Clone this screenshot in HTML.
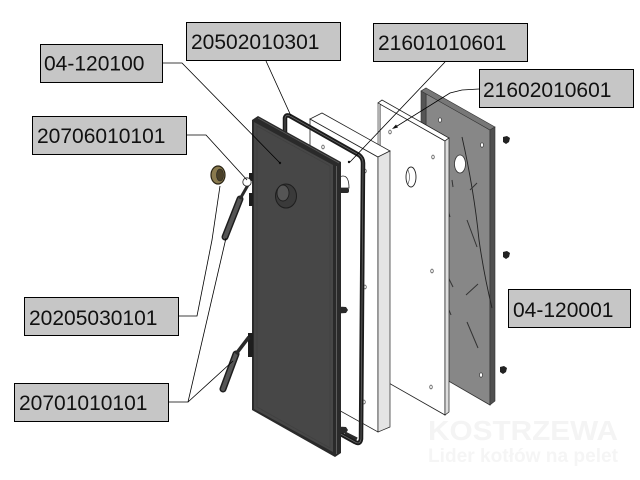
<!DOCTYPE html>
<html><head><meta charset="utf-8"><style>
html,body{margin:0;padding:0;background:#fff;}
svg{display:block;}
text{font-family:"Liberation Sans",Arial,sans-serif;}
</style></head><body>
<svg width="640" height="480" viewBox="0 0 640 480" xmlns="http://www.w3.org/2000/svg">
<rect width="640" height="480" fill="#fff"/>
<!-- watermark -->
<text x="428" y="440" font-size="28" font-weight="bold" fill="#f4f4f4" textLength="190" lengthAdjust="spacingAndGlyphs">KOSTRZEWA</text>
<text x="428" y="462" font-size="19" font-weight="bold" fill="#f5f5f5" textLength="190" lengthAdjust="spacingAndGlyphs">Lider kotłów na pelet</text>

<!-- Panel 3 gray -->
<polygon points="426,92 490,130 490,405 426,368" fill="#878787" stroke="#333" stroke-width="0.8"/>
<polygon points="421,91 426,88 426,372 421,375" fill="#555" stroke="#333" stroke-width="0.6"/>
<polygon points="421,91 426,88 495,127 490,130" fill="#777" stroke="#333" stroke-width="0.6"/>
<polygon points="490,130 495,127 495,401 490,405" fill="#505050" stroke="#333" stroke-width="0.6"/>
<ellipse cx="460" cy="164" rx="5.5" ry="9" fill="#fff" stroke="#333" stroke-width="0.8"/>
<ellipse cx="440" cy="120" rx="1.5" ry="2.2" fill="#fff" stroke="#222" stroke-width="0.6"/>
<ellipse cx="482" cy="145" rx="1.5" ry="2.2" fill="#fff" stroke="#222" stroke-width="0.6"/>
<ellipse cx="481" cy="375" rx="1.5" ry="2.2" fill="#fff" stroke="#222" stroke-width="0.6"/>
<path d="M462,137 Q474,190 479,240 Q484,275 492,308" fill="none" stroke="#222" stroke-width="0.9"/>
<g stroke="#333" stroke-width="1">
<line x1="470" y1="190" x2="477" y2="183"/>
<line x1="452" y1="180" x2="453" y2="187"/>
<line x1="448" y1="210" x2="450" y2="217"/>
<line x1="467" y1="220" x2="477" y2="247"/>
<line x1="466" y1="295" x2="478" y2="284"/>
<line x1="467" y1="322" x2="478" y2="348"/>
<line x1="448" y1="277" x2="453" y2="287"/>
<line x1="449" y1="310" x2="451" y2="315"/>
</g>
<!-- bolts -->
<g fill="#222">
<path d="M503,137 l4,-1 l3,2 l-1,4 l-3,2 l-3,-2 z"/>
<path d="M503,252 l4,-1 l3,2 l-1,4 l-3,2 l-3,-2 z"/>
<path d="M500,367 l4,-1 l3,2 l-1,4 l-3,2 l-3,-2 z"/>
</g>

<!-- Panel 2 white -->
<polygon points="380,104 445,141 445,415 380,378" fill="#fff" stroke="#222" stroke-width="0.8"/>
<polygon points="378,103 382,100 449,138 445,141" fill="#fff" stroke="#222" stroke-width="0.8"/>
<polygon points="378,103 380,104 380,378 378,377" fill="#eee" stroke="#222" stroke-width="0.6"/>
<polygon points="445,141 449,138 449,412 445,415" fill="#ddd" stroke="#222" stroke-width="0.7"/>
<ellipse cx="411" cy="177" rx="5" ry="10" fill="#fff" stroke="#222" stroke-width="0.9"/>
<path d="M408,170 q3,7 0,14" fill="none" stroke="#444" stroke-width="0.6"/>
<g fill="#fff" stroke="#222" stroke-width="0.6">
<ellipse cx="390" cy="132" rx="1.2" ry="2"/>
<ellipse cx="433" cy="157" rx="1.2" ry="2"/>
<ellipse cx="432" cy="271" rx="1.2" ry="2"/>
<ellipse cx="431" cy="387" rx="1.2" ry="2"/>
</g>

<!-- Panel 1 white block -->
<polygon points="310,119 378,157 378,432 310,394" fill="#fff" stroke="#222" stroke-width="0.8"/>
<polygon points="310,119 322,113 390,151 378,157" fill="#fff" stroke="#222" stroke-width="0.8"/>
<polygon points="378,157 390,151 390,427 378,432" fill="#e4e4e4" stroke="#222" stroke-width="0.7"/>
<g fill="#fff" stroke="#222" stroke-width="0.6">
<ellipse cx="323" cy="147" rx="1.2" ry="2"/>
<ellipse cx="365" cy="171" rx="1.2" ry="2"/>
<ellipse cx="365" cy="287" rx="1.2" ry="2"/>
<ellipse cx="364" cy="402" rx="1.2" ry="2"/>
</g>
<!-- white latch -->
<path d="M337,188 q0,-12 6,-12 q6,0 6,12 z" fill="#fff" stroke="#222" stroke-width="0.8"/>
<rect x="332" y="188" width="17" height="5" rx="2" fill="#2a2a2a"/>

<!-- Gasket -->
<path d="M285,133 L285,118 Q286,114 290,116 L359,155 Q363,158 363,163 L361,439 Q360,445 355,442 L337,432" fill="none" stroke="#1b1b1b" stroke-width="4.5"/>
<path d="M285,133 L285,118 Q286,114 290,116 L359,155 Q363,158 363,163 L361,439 Q360,445 355,442 L337,432" fill="none" stroke="#666" stroke-width="0.8"/>
<!-- latches -->
<path d="M330,310 q6,-4 16,-3 l2,3 l-2,3 l-16,1 z" fill="#2a2a2a"/>
<path d="M330,430 q6,-4 16,-3 l2,3 l-2,3 l-16,1 z" fill="#2a2a2a"/>
<path d="M345,433 l12,6" stroke="#2a2a2a" stroke-width="3"/>

<!-- Door -->
<polygon points="252,120 258,116 341,162 341,453 335,457 252,410" fill="#2a2a2a"/>
<polygon points="254,122 333,165 333,452 254,409" fill="#474747"/>
<polygon points="257,126 330,166 330,448 257,407" fill="none" stroke="#404040" stroke-width="0.8"/>
<line x1="336.5" y1="166" x2="336.5" y2="454" stroke="#6a6a6a" stroke-width="0.8"/>
<line x1="258" y1="118" x2="339" y2="163" stroke="#5a5a5a" stroke-width="0.8"/>
<ellipse cx="286" cy="196" rx="10.5" ry="12" fill="#3a3a3a" stroke="#1e1e1e" stroke-width="1"/>
<ellipse cx="283" cy="193" rx="6" ry="8" fill="#555" stroke="#1e1e1e" stroke-width="0.9"/>
<circle cx="280" cy="163" r="1.2" fill="#111"/>
<!-- door left brackets -->
<rect x="249" y="173" width="4" height="8" fill="#1e1e1e"/>
<rect x="249" y="193" width="4" height="13" fill="#1e1e1e"/>
<rect x="248" y="333" width="5" height="24" fill="#1e1e1e"/>

<!-- nut -->
<ellipse cx="218" cy="175" rx="7" ry="9" fill="#8a7a4e" stroke="#2a2414" stroke-width="1.2"/>
<ellipse cx="220" cy="175" rx="3.5" ry="6" fill="#4a4028" stroke="#222" stroke-width="0.6"/>
<!-- upper handle -->
<line x1="225" y1="237" x2="240" y2="199" stroke="#1e1e1e" stroke-width="7" stroke-linecap="round"/>
<line x1="225" y1="237" x2="240" y2="199" stroke="#555" stroke-width="4" stroke-linecap="round"/>
<line x1="240" y1="199" x2="248" y2="185" stroke="#2a2a2a" stroke-width="3"/>
<circle cx="247" cy="182" r="4.2" fill="#fff" stroke="#222" stroke-width="0.8"/>
<!-- lower handle -->
<line x1="223" y1="389" x2="236" y2="354" stroke="#1e1e1e" stroke-width="7" stroke-linecap="round"/>
<line x1="223" y1="389" x2="236" y2="354" stroke="#555" stroke-width="4" stroke-linecap="round"/>
<line x1="236" y1="354" x2="249" y2="337" stroke="#2a2a2a" stroke-width="3.5"/>

<!-- leaders -->
<g fill="none" stroke="#000" stroke-width="0.8">
<polyline points="162,63 182,63 280,163"/>
<polyline points="266,61 291,116"/>
<polyline points="186,135 206,135 247,180"/>
<polyline points="445,62 350,162"/>
<polyline points="479,89 462,90 450,93 394,128"/>
<polyline points="178,316 197,316 212,240 220,186"/>
<polyline points="168,402 188,402 226,238"/>
<polyline points="188,402 233,361"/>
</g>
<circle cx="349" cy="162" r="1.2" fill="#111"/>
<path d="M392,129 l6,-1.5 l-2,-3 z" fill="#111"/>

<!-- labels -->
<g stroke="#000" stroke-width="1" fill="#c6c6c6">
<rect x="40.5" y="44.5" width="122" height="38"/>
<rect x="186.5" y="22.5" width="154" height="38"/>
<rect x="32.5" y="116.5" width="154" height="38"/>
<rect x="373.5" y="23.5" width="154" height="38"/>
<rect x="479.5" y="69.5" width="154" height="38"/>
<rect x="24.5" y="297.5" width="154" height="38"/>
<rect x="14.5" y="383.5" width="154" height="38"/>
<rect x="508.5" y="289.5" width="122" height="38"/>
</g>
<g font-size="21" fill="#111">
<text x="44" y="70.5">04-120100</text>
<text x="191" y="49">20502010301</text>
<text x="37" y="143">20706010101</text>
<text x="378" y="50">21601010601</text>
<text x="483" y="97">21602010601</text>
<text x="29" y="325">20205030101</text>
<text x="19" y="410">20701010101</text>
<text x="513" y="317">04-120001</text>
</g>
</svg>
</body></html>
